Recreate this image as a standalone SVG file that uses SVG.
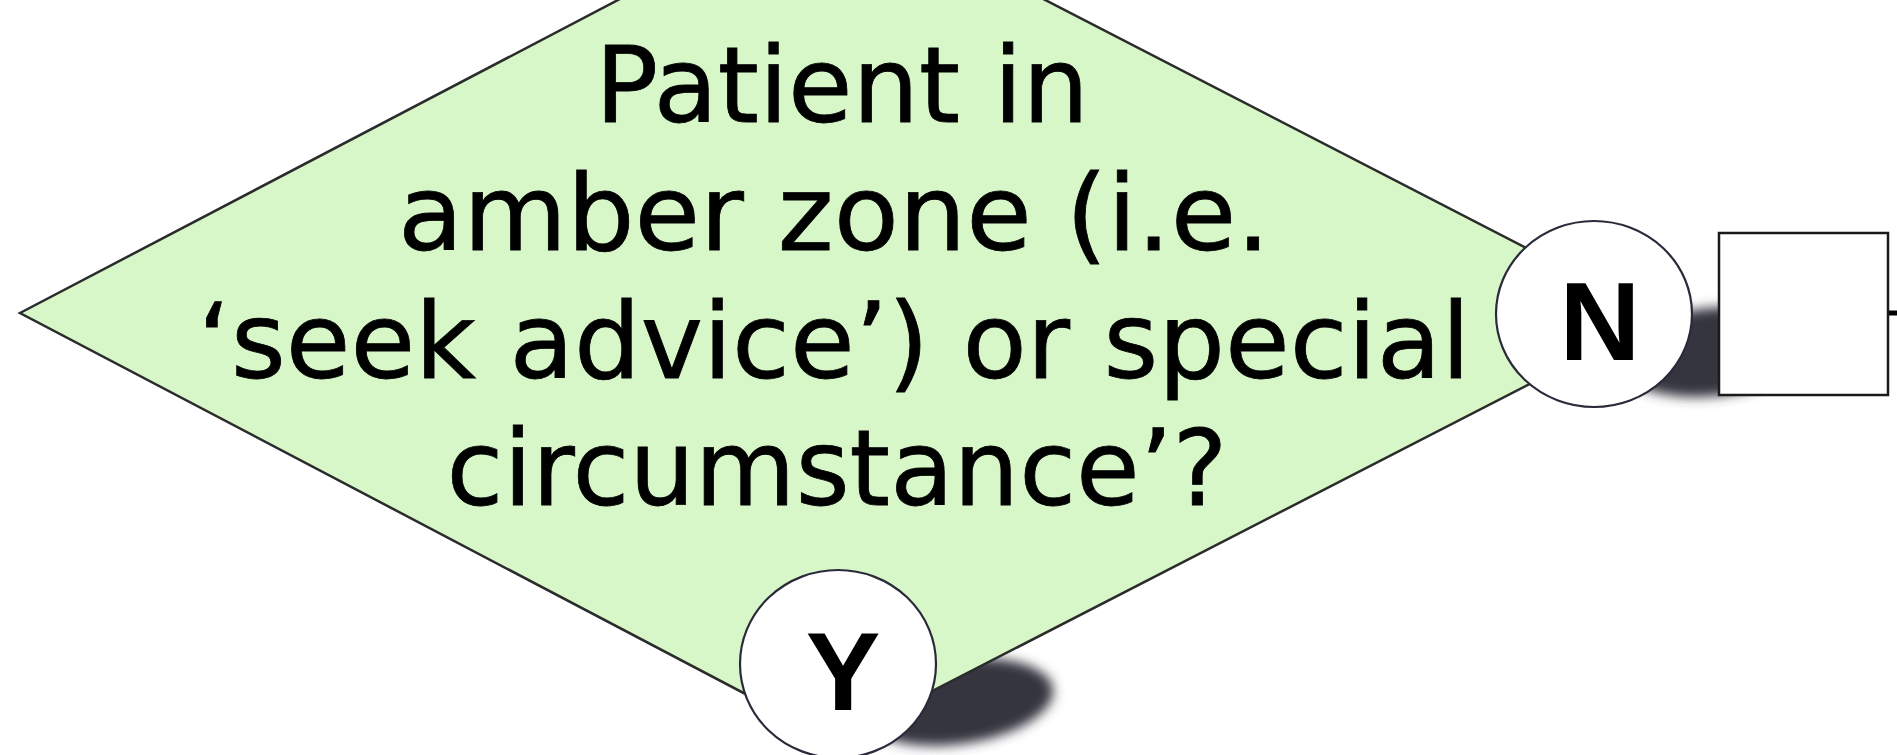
<svg xmlns="http://www.w3.org/2000/svg" width="1897" height="755" viewBox="0 0 1897 755">
  <defs>
    <filter id="blur" x="-30%" y="-60%" width="160%" height="220%">
      <feGaussianBlur stdDeviation="6"/>
    </filter>
    <style>
      .decision { fill: #d7f7c9; stroke: #2b2b2b; stroke-width: 2.5; }
      .qtext { font-family: "DejaVu Sans", Verdana, sans-serif; font-size: 105px; fill: #000; stroke: #000; stroke-width: 0.8; text-anchor: middle; }
      .badge { fill: #ffffff; stroke: #2a2a3a; stroke-width: 2.2; }
      .blabel { font-family: "Liberation Sans", Arial, sans-serif; font-weight: bold; font-size: 112px; fill: #000; text-anchor: middle; }
      .shadow { fill: #35353f; filter: url(#blur); }
      .box { fill: #ffffff; stroke: #1a1a1a; stroke-width: 2.5; }
      .conn { stroke: #000; stroke-width: 5; fill: none; }
    </style>
  </defs>
  <rect x="0" y="0" width="1897" height="755" fill="#ffffff"/>

  <!-- shadows (behind shapes) -->
  <ellipse class="shadow" cx="958" cy="702" rx="96" ry="42" transform="rotate(-8 958 702)"/>
  <ellipse class="shadow" cx="1712" cy="352" rx="96" ry="44" transform="rotate(-6 1712 352)"/>

  <g id="node-decision">
    <polygon class="decision" points="20,313 830,-111 1660,317 835,741"/>
    <text class="qtext" x="842" y="122" textLength="494" lengthAdjust="spacingAndGlyphs">Patient in</text>
    <text class="qtext" x="834" y="250" textLength="872" lengthAdjust="spacingAndGlyphs">amber zone (i.e.</text>
    <text class="qtext" x="834" y="378" textLength="1273" lengthAdjust="spacingAndGlyphs">‘seek advice’) or special</text>
    <text class="qtext" x="837" y="505" textLength="781" lengthAdjust="spacingAndGlyphs">circumstance’?</text>
  </g>

  <g id="connectors">
    <line class="conn" x1="1888" y1="313" x2="1897" y2="313"/>
  </g>

  <g id="node-box">
    <rect class="box" x="1719" y="233" width="169" height="162"/>
  </g>

  <g id="node-no">
    <ellipse class="badge" cx="1594" cy="314" rx="98" ry="93"/>
    <text class="blabel" x="1600" y="360">N</text>
  </g>

  <g id="node-yes">
    <ellipse class="badge" cx="838" cy="664" rx="98" ry="94"/>
    <text class="blabel" x="843" y="710">Y</text>
  </g>
</svg>
